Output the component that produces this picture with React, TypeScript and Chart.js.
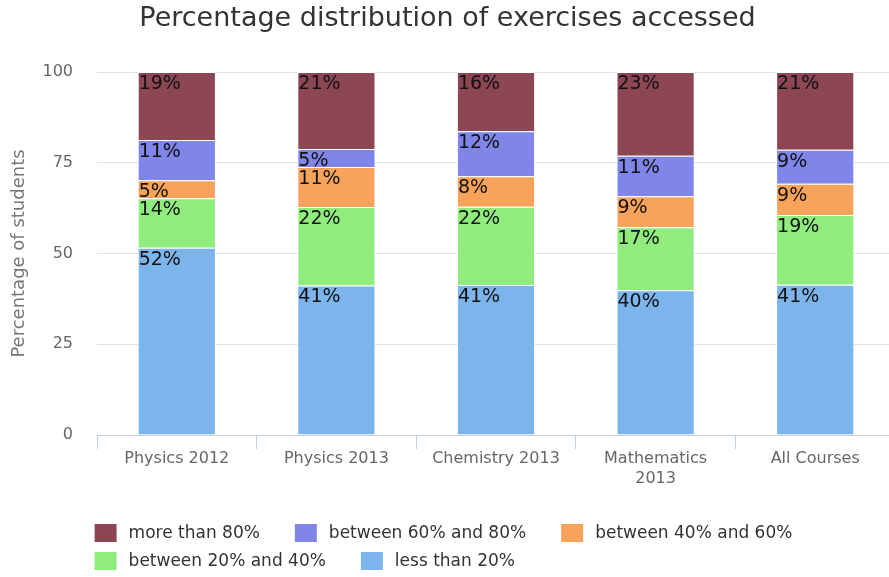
import { useEffect, useRef } from 'react';
import { Chart, registerables } from 'chart.js';

Chart.register(...registerables);

// ---- data ----
const categories: (string | string[])[] = [
  'Physics 2012',
  'Physics 2013',
  'Chemistry 2013',
  ['Mathematics', '2013'],
  'All Courses',
];

// stacked bottom -> top
const seriesNames = [
  'less than 20%',
  'between 20% and 40%',
  'between 40% and 60%',
  'between 60% and 80%',
  'more than 80%',
];
const seriesColors = ['#7cb5ec', '#90ed7d', '#f7a35c', '#8085e9', '#8d4654'];

const lessThan20 = [51.6, 41.2, 41.3, 39.9, 41.4];
const between20and40 = [13.6, 21.6, 21.6, 17.3, 19.2];
const between40and60 = [5.0, 11.0, 8.4, 8.6, 8.6];
const between60and80 = [11.1, 5.0, 12.4, 11.1, 9.4];
const moreThan80 = [18.7, 21.2, 16.3, 23.1, 21.4];

const seriesValues = [lessThan20, between20and40, between40and60, between60and80, moreThan80];

const yTicks = [0, 25, 50, 75, 100];
const chartTitle = 'Percentage distribution of exercises accessed';
const yAxisTitle = 'Percentage of students';

const FONT = "'DejaVu Sans', Verdana, sans-serif";

const segmentLabelPlugin = {
  id: 'segmentLabels',
  afterDatasetsDraw(chart: any) {
    const ctx = chart.ctx;
    ctx.save();
    ctx.font = `19px ${FONT}`;
    ctx.fillStyle = '#111111';
    ctx.textAlign = 'left';
    ctx.textBaseline = 'alphabetic';
    chart.data.datasets.forEach((ds: any, i: number) => {
      const meta = chart.getDatasetMeta(i);
      meta.data.forEach((bar: any, j: number) => {
        const { x, y, base, width } = bar.getProps(['x', 'y', 'base', 'width'], true);
        const top = Math.min(y, base);
        ctx.fillText(`${Math.round(ds.data[j])}%`, x - width / 2 + 1, top + 17);
      });
    });
    ctx.restore();
  },
};

const flowLegendPlugin = {
  id: 'flowLegend',
  afterDraw(chart: any) {
    const ctx = chart.ctx;
    const items = chart.data.datasets
      .map((ds: any) => ({ text: ds.label as string, color: ds.backgroundColor as string }))
      .reverse();
    ctx.save();
    ctx.font = `17px ${FONT}`;
    const boxW = 22;
    const boxH = 18;
    const textGap = 12;
    const itemGap = 35;
    const visibleW = Math.min(chart.width, window.innerWidth || chart.width);
    const maxW = visibleW - 40;
    const rows: any[][] = [[]];
    let rowW = 0;
    items.forEach((it: any) => {
      const w = boxW + textGap + ctx.measureText(it.text).width;
      const cur = rows[rows.length - 1];
      if (cur.length && rowW + itemGap + w > maxW) {
        rows.push([]);
        rowW = 0;
      }
      const r = rows[rows.length - 1];
      rowW += (r.length ? itemGap : 0) + w;
      r.push({ ...it, w });
    });
    const widths = rows.map((r) => r.reduce((s, it, k) => s + it.w + (k ? itemGap : 0), 0));
    const maxRow = Math.max(...widths);
    const x0 = (visibleW - maxRow) / 2 - 1;
    const firstY = chart.chartArea.bottom + 98;
    const rowH = 28;
    rows.forEach((r, ri) => {
      let x = x0;
      const cy = firstY + ri * rowH;
      r.forEach((it) => {
        ctx.fillStyle = it.color;
        ctx.fillRect(x, cy - boxH / 2, boxW, boxH);
        ctx.fillStyle = '#333333';
        ctx.textAlign = 'left';
        ctx.textBaseline = 'middle';
        ctx.fillText(it.text, x + boxW + textGap, cy + 1);
        x += it.w + itemGap;
      });
    });
    ctx.restore();
  },
};

export default function App() {
  const ref = useRef<HTMLCanvasElement>(null);

  useEffect(() => {
    if (!ref.current) return;
    const chart = new Chart(ref.current, {
      type: 'bar',
      data: {
        labels: categories,
        datasets: seriesNames.map((name, i) => ({
          label: name,
          data: seriesValues[i],
          backgroundColor: seriesColors[i],
          borderColor: '#ffffff',
          borderWidth: 1,
          borderSkipped: 'start',
          categoryPercentage: 1,
          barPercentage: 0.49,
        })),
      },
      options: {
        responsive: false,
        animation: false,
        events: [],
        layout: { padding: { left: 0, right: 0, top: 0, bottom: 92 } },
        plugins: {
          legend: { display: false },
          tooltip: { enabled: false },
          title: {
            display: true,
            text: chartTitle,
            color: '#333333',
            font: { family: FONT, size: 27, weight: 'normal' },
            padding: { top: 2.8, bottom: 36.8 },
          },
        },
        scales: {
          x: {
            stacked: true,
            grid: {
              display: true,
              drawOnChartArea: false,
              drawTicks: true,
              tickLength: 14,
              color: '#c0d0e0',
              offset: true,
            },
            border: { display: true, color: '#c0d0e0', width: 1 },
            ticks: {
              color: '#666666',
              font: { family: FONT, size: 16, lineHeight: 1.3 },
              padding: -1,
              maxRotation: 0,
              autoSkip: false,
            },
            afterFit: (s: any) => {
              s.height = 50;
            },
          },
          y: {
            stacked: true,
            min: 0,
            max: 100,
            afterBuildTicks: (s: any) => {
              s.ticks = yTicks.map((v) => ({ value: v }));
            },
            grid: {
              color: (c: any) => (c.tick && c.tick.value === 0 ? 'rgba(0,0,0,0)' : '#e0e0e0'),
              drawTicks: false,
            },
            border: { display: false },
            ticks: {
              color: '#666666',
              font: { family: FONT, size: 16 },
              padding: 24,
            },
            title: {
              display: true,
              text: yAxisTitle,
              color: '#777777',
              font: { family: FONT, size: 18 },
              padding: { top: 9, bottom: 0 },
            },
            afterFit: (s: any) => {
              s.width = 97;
            },
          },
        },
      },
      plugins: [segmentLabelPlugin, flowLegendPlugin],
    } as any);
    return () => chart.destroy();
  }, []);

  return (
    <div
      style={{
        position: 'absolute',
        left: 0,
        top: 0,
        width: 889,
        height: 577,
        overflow: 'hidden',
        background: '#ffffff',
      }}
    >
      <canvas ref={ref} width={895} height={577} style={{ display: 'block' }} />
    </div>
  );
}
